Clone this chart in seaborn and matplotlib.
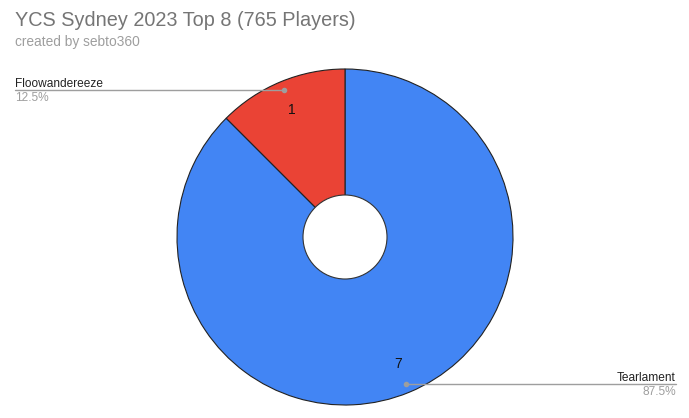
import numpy as np
import matplotlib
matplotlib.use("Agg")
import matplotlib.pyplot as plt
import seaborn as sns

# data
decks = ["Tearlament", "Floowandereeze"]
counts = [7, 1]
colors = ["#4285F4", "#EA4335"]

sns.set_theme(style="white")
plt.rcParams['font.family'] = ['Liberation Sans', 'DejaVu Sans']

W, H = 689, 418
fig = plt.figure(figsize=(W / 100, H / 100), dpi=100)
ax = fig.add_axes([0, 0, 1, 1])

cx, cy, R = 345, H - 237, 168
total = sum(counts)

wedges, texts, autotexts = ax.pie(
    counts, colors=colors, startangle=90, counterclock=False,
    center=(cx, cy), radius=R,
    autopct=lambda p: "%d" % round(p * total / 100), pctdistance=0.82,
    wedgeprops=dict(edgecolor="#222222", linewidth=0.8),
    textprops=dict(fontsize=10, color="#111111"))

# hole
hole = plt.Circle((cx, cy), 42, facecolor="white", edgecolor="#333333", linewidth=0.8, zorder=3)
ax.add_patch(hole)

ax.set_xlim(0, W)
ax.set_ylim(0, H)
ax.set_aspect("equal")
ax.axis("off")

# leader lines and labels
for w, name, c in zip(wedges, decks, counts):
    mid = np.deg2rad((w.theta1 + w.theta2) / 2)
    dx, dy = cx + 0.945 * R * np.cos(mid), cy + 0.945 * R * np.sin(mid)
    pct = "%.1f%%" % (100 * c / total)
    if np.cos(mid) < 0:
        x_end, ha = 15, "left"
    else:
        x_end, ha = 676, "right"
    ax.plot([dx, x_end], [dy, dy], color="#9e9e9e", linewidth=1, zorder=4)
    ax.plot([dx], [dy], "o", color="#9e9e9e", markersize=3, zorder=5)
    ax.text(x_end, dy + 3, name, ha=ha, va="baseline", fontsize=8.6, color="#222222")
    ax.text(x_end, dy - 11, pct, ha=ha, va="baseline", fontsize=8.6, color="#9e9e9e")

fig.text(15 / W, 1 - 26 / H, "YCS Sydney 2023 Top 8 (765 Players)", ha="left", va="baseline",
         fontsize=14.3, color="#757575")
fig.text(15 / W, 1 - 46 / H, "created by sebto360", ha="left", va="baseline",
         fontsize=9.9, color="#9e9e9e")

fig.savefig("out.png", dpi=100, facecolor="white")
